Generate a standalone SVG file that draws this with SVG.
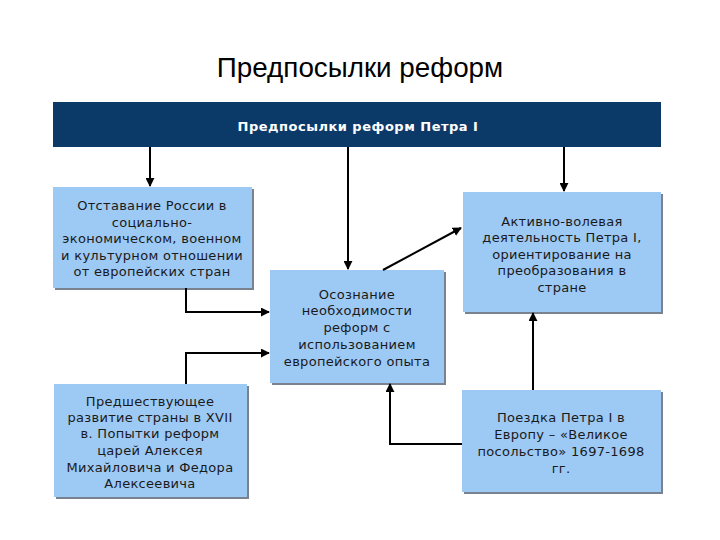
<svg xmlns="http://www.w3.org/2000/svg" width="720" height="540" viewBox="0 0 720 540">
<defs>
<style>
.box{fill:#9dc9f5;}
.sh{fill:#7a8290;}
.t{font-family:"DejaVu Sans","Liberation Sans",sans-serif;font-size:13px;letter-spacing:0.3px;fill:#1a1a1a;text-anchor:middle;}
.c{fill:none;stroke:#000;stroke-width:2;}
</style>
<marker id="ah" viewBox="0 0 10 10" refX="9" refY="5" markerWidth="4.5" markerHeight="4.5" orient="auto" markerUnits="strokeWidth">
<path d="M0,0 L10,5 L0,10 z" fill="#000"/>
</marker>
</defs>
<rect width="720" height="540" fill="#fff"/>
<text x="360" y="77" font-family="'Liberation Sans',Arial,sans-serif" font-size="27.8" text-anchor="middle" fill="#000">Предпосылки реформ</text>
<g id="header">
<rect x="53" y="102" width="608" height="45" fill="#0c3a68"/>
<text x="358" y="131" font-family="'DejaVu Sans',sans-serif" font-weight="bold" font-size="13" letter-spacing="0.5" fill="#fff" text-anchor="middle">Предпосылки реформ Петра I</text>
</g>
<g id="node1">
<rect class="sh" x="55" y="189" width="199" height="101"/>
<rect class="box" x="53" y="187" width="199" height="101"/>
<text class="t" x="152" y="210">Отставание России в</text>
<text class="t" x="152" y="227">социально-</text>
<text class="t" x="152" y="243">экономическом, военном</text>
<text class="t" x="152" y="260">и культурном отношении</text>
<text class="t" x="152" y="276">от европейских стран</text>
</g>
<g id="node2">
<rect class="sh" x="272" y="272" width="174" height="113"/>
<rect class="box" x="270" y="270" width="174" height="113"/>
<text class="t" x="357" y="299">Осознание</text>
<text class="t" x="357" y="315">необходимости</text>
<text class="t" x="357" y="332">реформ с</text>
<text class="t" x="357" y="349">использованием</text>
<text class="t" x="357" y="366">европейского опыта</text>
</g>
<g id="node3">
<rect class="sh" x="465" y="194" width="198" height="120"/>
<rect class="box" x="463" y="192" width="198" height="120"/>
<text class="t" x="562" y="226">Активно-волевая</text>
<text class="t" x="562" y="242">деятельность Петра I,</text>
<text class="t" x="562" y="259">ориентирование на</text>
<text class="t" x="562" y="275">преобразования в</text>
<text class="t" x="562" y="292">стране</text>
</g>
<g id="node4">
<rect class="sh" x="56" y="386" width="193" height="113"/>
<rect class="box" x="54" y="384" width="193" height="113"/>
<text class="t" x="150" y="406">Предшествующее</text>
<text class="t" x="150" y="422">развитие страны в XVII</text>
<text class="t" x="150" y="438">в. Попытки реформ</text>
<text class="t" x="150" y="455">царей Алексея</text>
<text class="t" x="150" y="472">Михайловича и Федора</text>
<text class="t" x="150" y="488">Алексеевича</text>
</g>
<g id="node5">
<rect class="sh" x="464" y="392" width="199" height="102"/>
<rect class="box" x="462" y="390" width="199" height="102"/>
<text class="t" x="561" y="422">Поездка Петра I в</text>
<text class="t" x="561" y="439">Европу – «Великое</text>
<text class="t" x="561" y="456">посольство» 1697-1698</text>
<text class="t" x="561" y="473">гг.</text>
</g>
<g id="connectors">
<path class="c" d="M150,147 V186" marker-end="url(#ah)"/>
<path class="c" d="M348,147 V269" marker-end="url(#ah)"/>
<path class="c" d="M564,147 V191" marker-end="url(#ah)"/>
<path class="c" d="M186,288 V312 H269" marker-end="url(#ah)"/>
<path class="c" d="M186,384 V353 H269" marker-end="url(#ah)"/>
<path class="c" d="M383,270 L461,228" marker-end="url(#ah)"/>
<path class="c" d="M533,390 V313" marker-end="url(#ah)"/>
<path class="c" d="M462,444 H390 V384" marker-end="url(#ah)"/>
</g>
</svg>
